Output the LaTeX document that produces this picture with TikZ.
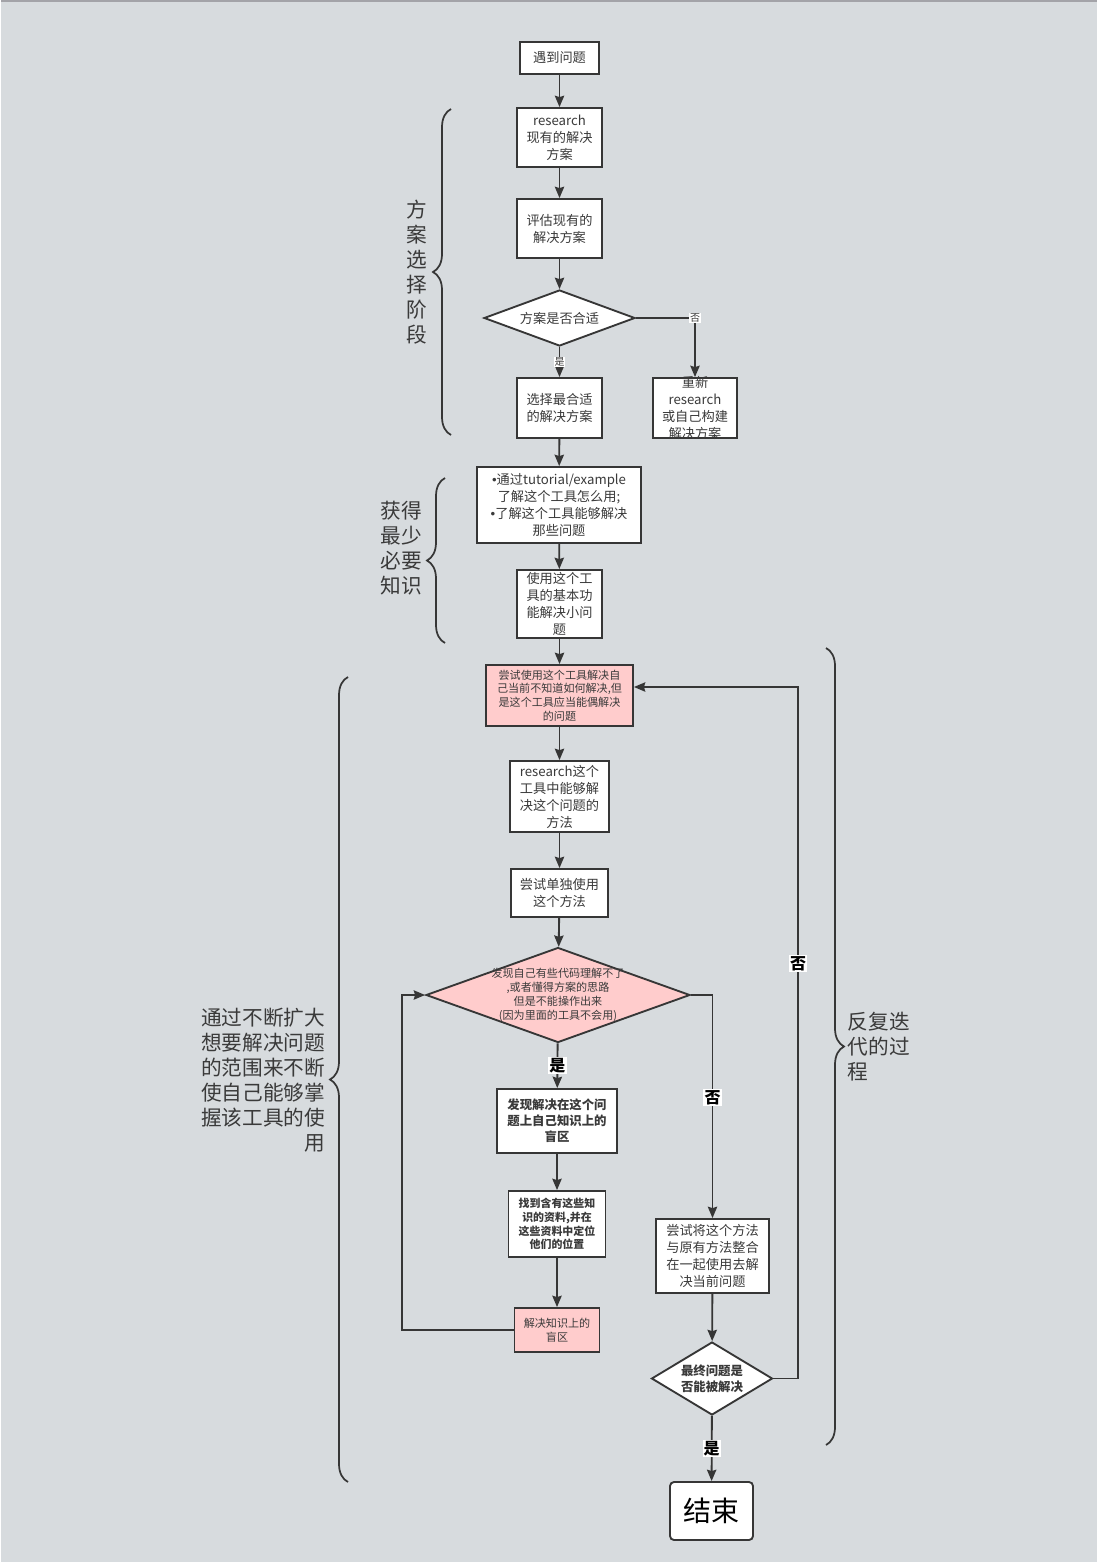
\documentclass[tikz,border=0pt]{standalone}
\usepackage{fontspec}
\setmainfont{Noto Sans CJK SC}
\newfontfamily\dotfont{Liberation Sans}
\usetikzlibrary{arrows.meta,shapes.geometric,decorations.pathreplacing}

\definecolor{bgGrey}{HTML}{D7DBDE}
\definecolor{lineGrey}{HTML}{363636}
\definecolor{textGrey}{HTML}{3A3A3A}
\definecolor{pinkFill}{HTML}{FFCCCC}
\definecolor{topGrey}{HTML}{A3A3A8}

\newcommand{\dotmark}{{\dotfont •}}

\tikzset{every picture/.style={line width=1.4pt}}
\tikzset{
	box/.style={draw=lineGrey, fill=white, align=center, inner sep=0pt, text=textGrey, font=\fontsize{9.9}{12.75}\selectfont},
	pinkbox/.style={box, fill=pinkFill, font=\fontsize{8.3}{10.2}\selectfont},
	boldbox/.style={box, font=\bfseries\fontsize{9.3}{12}\selectfont},
	decision/.style={diamond, draw=lineGrey, fill=white, inner sep=0pt},
	dtext/.style={align=center, inner sep=0pt, text=textGrey},
	arrow/.style={draw=lineGrey, -{Stealth[length=8.5pt,width=7pt,inset=1pt]}},
	smalllbl/.style={fill=white, inner sep=0.6pt, text=textGrey, font=\fontsize{7.5}{8}\selectfont},
	biglbl/.style={fill=white, inner sep=0.8pt, text=black, font=\bfseries\fontsize{12}{13}\selectfont},
	bracket/.style={draw=lineGrey, line width=1.3pt, decorate, decoration={brace, amplitude=13.5pt}},
	stagetext/.style={align=center, inner sep=0pt, text=textGrey, font=\fontsize{15.5}{18.75}\selectfont}
}

\begin{document}
\begin{tikzpicture}[x=0.75pt,y=0.75pt,yscale=-1,xscale=1]
	%Shape: Background
	\fill[bgGrey] (0,0) rectangle (1096,1562);
	\draw[topGrey, line width=1.5pt] (0,1) -- (1096,1);
	\useasboundingbox (0,0) rectangle (1096,1562);

	%Shape: Rectangle
	\node[box, minimum width=59.25pt, minimum height=24pt] (meet) at (558.5,58) {遇到问题};
	%Shape: Rectangle
	\node[box, minimum width=63.75pt, minimum height=44.25pt] (search) at (558.5,137.5) {research\\现有的解决\\方案};
	%Shape: Rectangle
	\node[box, minimum width=63.75pt, minimum height=44.25pt] (judge) at (558.5,228.5) {评估现有的\\解决方案};
	%Shape: Diamond
	\node[decision, minimum width=113.25pt, minimum height=42pt] (fit) at (558.5,318) {};
	\node[dtext, font=\fontsize{9.9}{12.75}\selectfont] (fittext) at (fit) {方案是否合适};
	%Shape: Rectangle
	\node[box, minimum width=63.75pt, minimum height=45pt] (pick) at (558.5,408) {选择最合适\\的解决方案};
	%Shape: Rectangle
	\node[box, minimum width=63pt, minimum height=45pt] (redo) at (694,408) {};
	\node[dtext, font=\fontsize{9.9}{12.75}\selectfont] (redotext) at (redo) {重新\\research\\或自己构建\\解决方案};

	%Shape: Rectangle
	\node[box, minimum width=123pt, minimum height=57pt] (learn) at (558,505) {\dotmark 通过tutorial/example\\了解这个工具怎么用;\\\dotmark 了解这个工具能够解决\\那些问题};
	%Shape: Rectangle
	\node[box, minimum width=63.75pt, minimum height=51pt] (basic) at (558.5,604) {使用这个工\\具的基本功\\能解决小问\\题};

	%Shape: Rectangle
	\node[pinkbox, minimum width=110.25pt, minimum height=45.75pt] (try) at (558.5,695.5) {尝试使用这个工具解决自\\己当前不知道如何解决,但\\是这个工具应当能偶解决\\的问题};
	%Shape: Rectangle
	\node[box, minimum width=74.25pt, minimum height=53.25pt] (method) at (558.5,796.5) {research这个\\工具中能够解\\决这个问题的\\方法};
	%Shape: Rectangle
	\node[box, minimum width=72.75pt, minimum height=36pt] (alone) at (558.5,893) {尝试单独使用\\这个方法};
	%Shape: Diamond
	\node[decision, fill=pinkFill, minimum width=198pt, minimum height=71.25pt] (stuck) at (557,995) {};
	\node[dtext, font=\fontsize{8.3}{10.3}\selectfont] (stucktext) at (stuck) {发现自己有些代码理解不了\\,或者懂得方案的思路\\但是不能操作出来\\(因为里面的工具不会用)};

	%Shape: Rectangle
	\node[boldbox, minimum width=90pt, minimum height=48pt] (blind) at (556,1121) {发现解决在这个问\\题上自己知识上的\\盲区};
	%Shape: Rectangle
	\node[boldbox, font=\bfseries\fontsize{8.2}{10.2}\selectfont, minimum width=72.75pt, minimum height=49.5pt] (find) at (556,1224) {找到含有这些知\\识的资料,并在\\这些资料中定位\\他们的位置};
	%Shape: Rectangle
	\node[pinkbox, minimum width=63.75pt, minimum height=33pt] (fix) at (556,1330) {解决知识上的\\盲区};

	%Shape: Rectangle
	\node[box, minimum width=84.75pt, minimum height=55.5pt] (merge) at (711.5,1256) {尝试将这个方法\\与原有方法整合\\在一起使用去解\\决当前问题};
	%Shape: Diamond
	\node[decision, minimum width=90.75pt, minimum height=54.75pt] (solved) at (711,1378.5) {};
	\node[dtext, font=\bfseries\fontsize{9.3}{12}\selectfont] (solvedtext) at (solved) {最终问题是\\否能被解决};
	%Shape: Rounded Rectangle
	\node[box, rounded corners=3pt, minimum width=62.25pt, minimum height=43.5pt, font=\fontsize{21}{24}\selectfont, text=black] (finish) at (710.5,1511) {结束};

	%Straight Lines
	\coordinate (loopL) at (401,995);
	\coordinate (backR) at (797,687);
	\draw[arrow] (meet) -- (search);
	\draw[arrow] (search) -- (judge);
	\draw[arrow] (judge) -- (fit);
	\draw[arrow] (fit) -- node[smalllbl] {是} (pick);
	\draw[arrow] (fit.east) -| node[smalllbl, pos=0.5] {否} (redo.north);
	\draw[arrow] (pick) -- (learn);
	\draw[arrow] (learn) -- (basic);
	\draw[arrow] (basic) -- (try);
	\draw[arrow] (try) -- (method);
	\draw[arrow] (method) -- (alone);
	\draw[arrow] (alone) -- (stuck);
	\draw[arrow] (stuck) -- node[biglbl] {是} (blind);
	\draw[arrow] (blind) -- (find);
	\draw[arrow] (find) -- (fix);
	\draw[arrow] (fix.west) -| (loopL) -- (stuck.west);
	\draw[arrow] (stuck.east) -| node[biglbl, pos=0.73] {否} (merge.north);
	\draw[arrow] (merge) -- (solved);
	\draw[arrow] (solved.east) -| node[biglbl, pos=0.8] {否} (backR) -- (try.east |- backR);
	\draw[arrow] (solved) -- node[biglbl] {是} (finish);

	%Braces
	\draw[bracket] (450,435) -- (450,109);
	\draw[bracket] (444,643) -- (444,478);
	\draw[bracket] (347,1482) -- (347,677);
	\draw[bracket] (825,648) -- (825,1445);

	% Text Node
	\node[stagetext] (stageA) at (416,272) {方\\案\\选\\择\\阶\\段};
	% Text Node
	\node[stagetext] (stageB) at (400,548) {获得\\最少\\必要\\知识};
	% Text Node
	\node[stagetext, align=right, anchor=east] (stageC) at (325,1080) {通过不断扩大\\想要解决问题\\的范围来不断\\使自己能够掌\\握该工具的使\\用};
	% Text Node
	\node[stagetext, align=left, anchor=west] (stageD) at (846,1047) {反复迭\\代的过\\程};
\end{tikzpicture}
\end{document}
